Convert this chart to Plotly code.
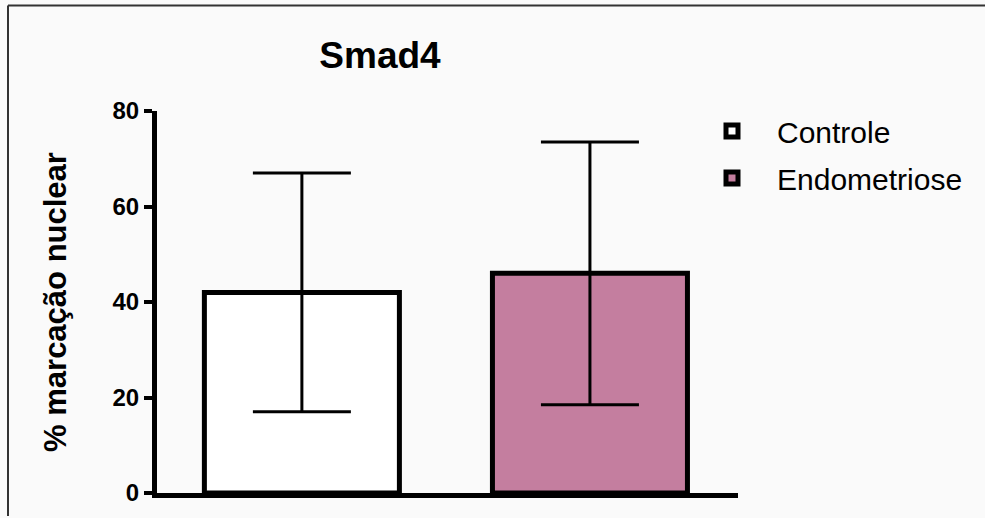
import plotly.graph_objects as go

groups = ["Controle", "Endometriose"]
means = [42.0, 46.0]
errors = [25.0, 27.5]
colors = ["#FFFFFF", "#C47E9F"]
y_ticks = [0, 20, 40, 60, 80]

FONT = "Liberation Sans, Arial, sans-serif"

fig = go.Figure()
for i, g in enumerate(groups):
    fig.add_trace(go.Bar(
        x=[i], y=[means[i]], name=g, width=0.677,
        marker=dict(color=colors[i], line=dict(color="black", width=5)),
        error_y=dict(type="data", array=[errors[i]], visible=True,
                     color="black", thickness=3, width=49),
        legendgroup=g,
    ))

# pixel -> paper helpers for the outer frame
L, R, T, B = 157, 738, 111, 495
def px(x):
    return (x - L) / (R - L)
def py(y):
    return (B - y) / (B - T)

fig.update_layout(
    width=985, height=518,
    margin=dict(l=L, r=985 - R, t=T, b=518 - B),
    paper_bgcolor="#FAFAFA", plot_bgcolor="#FAFAFA",
    barmode="overlay",
    font=dict(family=FONT, color="black"),
    title=dict(text="<b>Smad4</b>", font=dict(size=37, family=FONT, color="black"),
               x=px(380), xref="paper", xanchor="center",
               y=1 - 55 / 518, yref="container", yanchor="middle"),
    xaxis=dict(range=[-0.503, 1.514], showline=True, linewidth=5, linecolor="black",
               showticklabels=False, ticks="", showgrid=False, zeroline=False),
    yaxis=dict(range=[0, 80], tickvals=y_ticks, showline=True, linewidth=5,
               linecolor="black", ticks="outside", ticklen=8, tickwidth=4,
               tickcolor="black", showgrid=False, zeroline=False,
               tickfont=dict(size=24, family=FONT, color="black", weight="bold"),
               title=dict(text="<b>% marcação nuclear</b>", standoff=38,
                          font=dict(size=31, family=FONT, color="black"))),
    legend=dict(x=px(687), y=py(105), xanchor="left", yanchor="top",
                font=dict(size=30, family=FONT, color="black"),
                itemwidth=80, tracegroupgap=5, traceorder="grouped",
                bgcolor="rgba(0,0,0,0)"),
    shapes=[
        dict(type="line", xref="paper", yref="paper", x0=px(8), x1=px(985),
             y0=py(5), y1=py(5), line=dict(color="#333333", width=2)),
        dict(type="line", xref="paper", yref="paper", x0=px(8), x1=px(8),
             y0=py(5), y1=py(518), line=dict(color="#333333", width=2)),
    ],
)

fig.write_html(
    "out.html",
    config={"displayModeBar": False},
    post_script=("document.body.style.margin='0';"
                 "document.body.style.overflow='hidden';"
                 "document.documentElement.style.overflow='hidden';"),
)
